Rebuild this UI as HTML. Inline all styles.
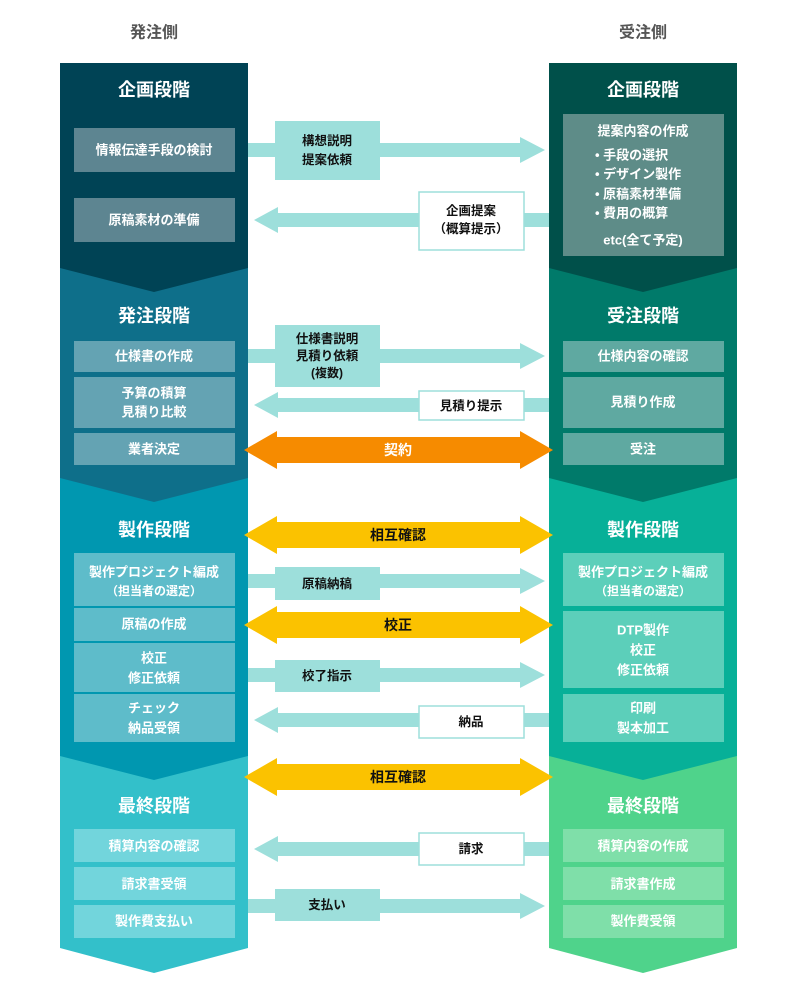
<!DOCTYPE html>
<html><head><meta charset="utf-8"><style>
html,body{margin:0;padding:0;background:#fff;}
svg text{font-family:"Liberation Sans","Noto Sans CJK JP",sans-serif;font-weight:bold;text-anchor:middle;dominant-baseline:central;}
.w{fill:#fff;font-size:13px;}
.h{fill:#fff;font-size:18px;}
.k{fill:#111;font-size:12.5px;}
.l{text-anchor:start;}
</style></head><body>
<svg width="798" height="995" viewBox="0 0 798 995" xmlns="http://www.w3.org/2000/svg">
<text x="154" y="33" style="fill:#555;font-size:16px">発注側</text>
<text x="643" y="33" style="fill:#555;font-size:16px">受注側</text>
<polygon points="60,740 248,740 248,948 154,973 60,948" fill="#33c0ca"/>
<polygon points="60,460 248,460 248,756 154,780 60,756" fill="#0097b0"/>
<polygon points="60,250 248,250 248,478 154,502 60,478" fill="#0e6f8a"/>
<polygon points="60,63 248,63 248,268 154,292 60,268" fill="#004355"/>
<polygon points="549,740 737,740 737,948 643,973 549,948" fill="#4fd38b"/>
<polygon points="549,460 737,460 737,756 643,780 549,756" fill="#07b098"/>
<polygon points="549,250 737,250 737,478 643,502 549,478" fill="#007a6a"/>
<polygon points="549,63 737,63 737,268 643,292 549,268" fill="#00504a"/>
<text class="h" x="154" y="90">企画段階</text>
<text class="h" x="643" y="90">企画段階</text>
<text class="h" x="154" y="316">発注段階</text>
<text class="h" x="643" y="316">受注段階</text>
<text class="h" x="154" y="530">製作段階</text>
<text class="h" x="643" y="530">製作段階</text>
<text class="h" x="154" y="806">最終段階</text>
<text class="h" x="643" y="806">最終段階</text>
<g fill="#5d8591"><rect x="74" y="128" width="161" height="44"/><rect x="74" y="198" width="161" height="44"/></g>
<text class="w" x="154" y="150">情報伝達手段の検討</text>
<text class="w" x="154" y="220">原稿素材の準備</text>
<g fill="#64a3b3"><rect x="74" y="341" width="161" height="31"/><rect x="74" y="377" width="161" height="51"/><rect x="74" y="433" width="161" height="32"/></g>
<text class="w" x="154" y="356">仕様書の作成</text>
<text class="w" x="154" y="393">予算の積算</text><text class="w" x="154" y="412">見積り比較</text>
<text class="w" x="154" y="449">業者決定</text>
<g fill="#5ebcca"><rect x="74" y="553" width="161" height="53"/><rect x="74" y="608" width="161" height="33"/><rect x="74" y="643" width="161" height="49"/><rect x="74" y="694" width="161" height="48"/></g>
<text class="w" x="154" y="572">製作プロジェクト編成</text><text class="w" x="154" y="591" style="font-size:12px">（担当者の選定）</text>
<text class="w" x="154" y="624">原稿の作成</text>
<text class="w" x="154" y="658">校正</text><text class="w" x="154" y="678">修正依頼</text>
<text class="w" x="154" y="708">チェック</text><text class="w" x="154" y="728">納品受領</text>
<g fill="#72d5dc"><rect x="74" y="829" width="161" height="33"/><rect x="74" y="867" width="161" height="33"/><rect x="74" y="905" width="161" height="33"/></g>
<text class="w" x="154" y="846">積算内容の確認</text>
<text class="w" x="154" y="884">請求書受領</text>
<text class="w" x="154" y="921">製作費支払い</text>
<rect x="563" y="114" width="161" height="142" fill="#5e8c88"/>
<text class="w" x="643" y="131">提案内容の作成</text>
<text class="w l" x="595" y="155">• 手段の選択</text>
<text class="w l" x="595" y="174">• デザイン製作</text>
<text class="w l" x="595" y="194">• 原稿素材準備</text>
<text class="w l" x="595" y="213">• 費用の概算</text>
<text class="w" x="643" y="240">etc(全て予定)</text>
<g fill="#5fa9a1"><rect x="563" y="341" width="161" height="31"/><rect x="563" y="377" width="161" height="51"/><rect x="563" y="433" width="161" height="32"/></g>
<text class="w" x="643" y="356">仕様内容の確認</text>
<text class="w" x="643" y="402">見積り作成</text>
<text class="w" x="643" y="449">受注</text>
<g fill="#5ccfba"><rect x="563" y="553" width="161" height="53"/><rect x="563" y="611" width="161" height="77"/><rect x="563" y="694" width="161" height="48"/></g>
<text class="w" x="643" y="572">製作プロジェクト編成</text><text class="w" x="643" y="591" style="font-size:12px">（担当者の選定）</text>
<text class="w" x="643" y="630">DTP製作</text><text class="w" x="643" y="650">校正</text><text class="w" x="643" y="670">修正依頼</text>
<text class="w" x="643" y="708">印刷</text><text class="w" x="643" y="728">製本加工</text>
<g fill="#7fdfa9"><rect x="563" y="829" width="161" height="33"/><rect x="563" y="867" width="161" height="33"/><rect x="563" y="905" width="161" height="33"/></g>
<text class="w" x="643" y="846">積算内容の作成</text>
<text class="w" x="643" y="884">請求書作成</text>
<text class="w" x="643" y="921">製作費受領</text>
<g fill="#9ddfdb">
<polygon points="248,143 520,143 520,137 545,150 520,163 520,157 248,157"/>
<polygon points="549,213 278,213 278,207 254,220 278,233 278,227 549,227"/>
<polygon points="248,349 520,349 520,343 545,356 520,369 520,363 248,363"/>
<polygon points="549,398 278,398 278,392 254,405 278,418 278,412 549,412"/>
<polygon points="248,574 520,574 520,568 545,581 520,594 520,588 248,588"/>
<polygon points="248,668 520,668 520,662 545,675 520,688 520,682 248,682"/>
<polygon points="549,713 278,713 278,707 254,720 278,733 278,727 549,727"/>
<polygon points="549,842 278,842 278,836 254,849 278,862 278,856 549,856"/>
<polygon points="248,899 520,899 520,893 545,906 520,919 520,913 248,913"/>
<rect x="275" y="121" width="105" height="59"/>
<rect x="275" y="325" width="105" height="62"/>
<rect x="275" y="567" width="105" height="33"/>
<rect x="275" y="660" width="105" height="32"/>
<rect x="275" y="889" width="105" height="32"/>
</g>
<g fill="#fff" stroke="#9ddfdb" stroke-width="1.5">
<rect x="419" y="192" width="105" height="58"/>
<rect x="419" y="391" width="105" height="29"/>
<rect x="419" y="706" width="105" height="32"/>
<rect x="419" y="833" width="105" height="32"/>
</g>
<text class="k" x="327" y="141">構想説明</text><text class="k" x="327" y="160">提案依頼</text>
<text class="k" x="471" y="211">企画提案</text><text class="k" x="471" y="229">（概算提示）</text>
<text class="k" x="327" y="339">仕様書説明</text><text class="k" x="327" y="356">見積り依頼</text><text class="k" x="327" y="373" style="font-size:12px">(複数)</text>
<text class="k" x="471" y="406">見積り提示</text>
<text class="k" x="327" y="584">原稿納稿</text>
<text class="k" x="327" y="676">校了指示</text>
<text class="k" x="471" y="722">納品</text>
<text class="k" x="471" y="849">請求</text>
<text class="k" x="327" y="905">支払い</text>
<polygon points="244,450 277,431 277,437 520,437 520,431 553,450 520,469 520,463 277,463 277,469" fill="#f68b00"/>
<text class="w" x="398" y="450" style="font-size:14px">契約</text>
<polygon points="244,535 277,516 277,522 520,522 520,516 553,535 520,554 520,548 277,548 277,554" fill="#fbc200"/>
<text class="k" x="398" y="535" style="font-size:14px">相互確認</text>
<polygon points="244,625 277,606 277,612 520,612 520,606 553,625 520,644 520,638 277,638 277,644" fill="#fbc200"/>
<text class="k" x="398" y="625" style="font-size:14px">校正</text>
<polygon points="244,777 277,758 277,764 520,764 520,758 553,777 520,796 520,790 277,790 277,796" fill="#fbc200"/>
<text class="k" x="398" y="777" style="font-size:14px">相互確認</text>
</svg>
</body></html>
